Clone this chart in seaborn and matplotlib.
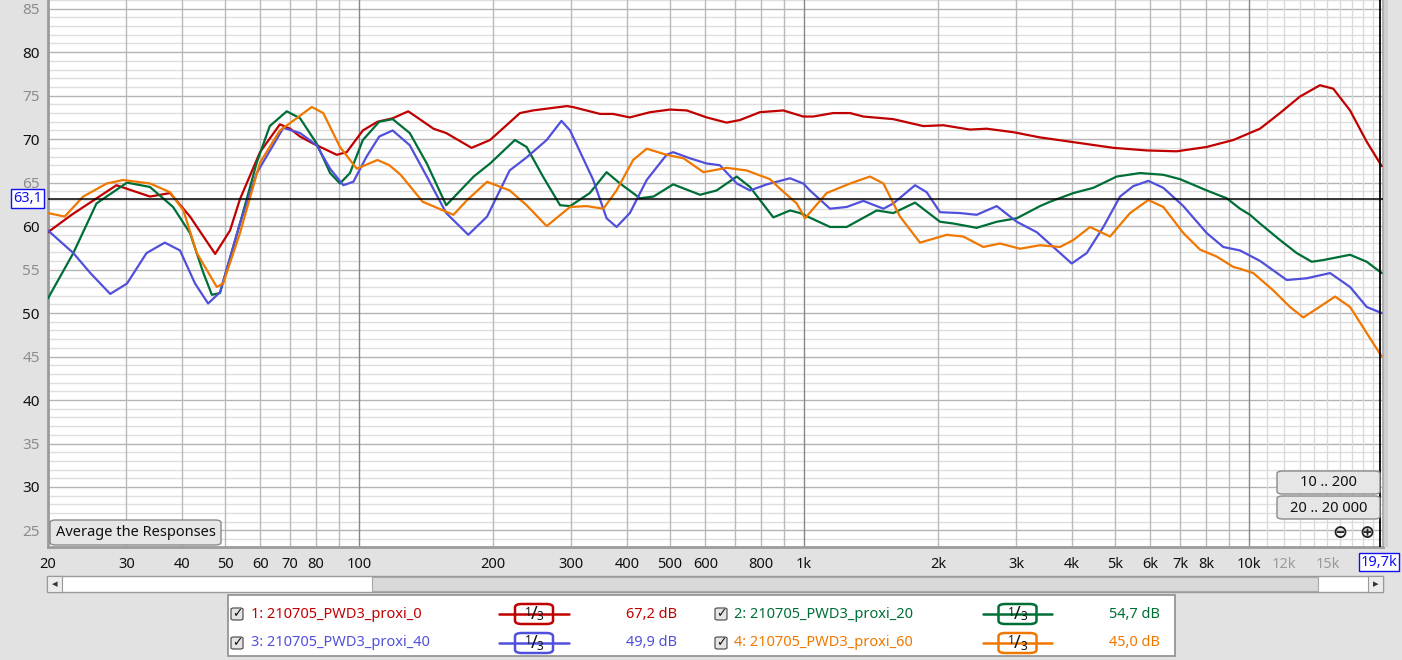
import numpy as np
import pandas as pd
import matplotlib
matplotlib.use("Agg")
import matplotlib.pyplot as plt
import seaborn as sns
from matplotlib.patches import FancyBboxPatch, Rectangle
from matplotlib.lines import Line2D
from matplotlib.ticker import NullLocator

# ---------------- data ----------------
red_freq = [20, 22.6, 28.5, 33.9, 37.6, 41.7, 47.5, 51.3, 54, 59.9,
            66.4, 70, 73.7, 78.8, 89.1, 93.8, 102, 110, 119, 129,
            147, 157, 179, 197, 230, 246, 293, 302, 348, 372,
            406, 451, 500, 545, 604, 670, 718, 796, 898, 996,
            1049, 1163, 1269, 1359, 1587, 1854, 2056, 2360, 2573, 2953,
            3390, 4100, 4955, 5890, 6877, 8033, 9218, 10583, 11737, 13017,
            14434, 15462, 16867, 18386, 19868]
red_db = [59.3, 61.3, 64.7, 63.4, 63.8, 61.1, 56.8, 59.5, 63.1, 68.5,
          71.7, 71.2, 70.3, 69.5, 68.2, 68.5, 71.0, 72.0, 72.4, 73.2,
          71.2, 70.7, 69.0, 69.9, 73.0, 73.3, 73.8, 73.7, 72.9, 72.9,
          72.5, 73.1, 73.4, 73.3, 72.5, 71.9, 72.2, 73.1, 73.3, 72.6,
          72.6, 73.0, 73.0, 72.6, 72.3, 71.5, 71.6, 71.1, 71.2, 70.8,
          70.2, 69.6, 69.0, 68.7, 68.6, 69.1, 69.9, 71.2, 73.0, 74.9,
          76.2, 75.8, 73.3, 69.7, 66.9]

green_freq = [20, 22.8, 25.7, 30.1, 33.9, 38.2, 41.7, 44.7, 46.7, 48.7,
              54, 58.9, 63, 68.8, 73.7, 80.3, 86.1, 90.6, 95.4, 102,
              111, 119, 130, 142, 157, 181, 197, 224, 238, 259,
              283, 298, 330, 360, 386, 428, 459, 508, 584, 636,
              706, 756, 853, 930, 979, 1144, 1247, 1457, 1587, 1776,
              2021, 2165, 2443, 2710, 3006, 3390, 3571, 4029, 4467, 5042,
              5689, 6418, 6996, 8033, 8908, 9544, 10050, 10583, 11737, 12797,
              13830, 14690, 16867, 18386, 19868]
green_db = [51.7, 56.9, 62.6, 65.0, 64.5, 62.2, 59.2, 54.6, 52.1, 52.3,
            60.3, 67.3, 71.5, 73.2, 72.4, 69.5, 66.1, 64.9, 66.1, 69.9,
            72.0, 72.3, 70.7, 67.2, 62.4, 65.7, 67.2, 69.9, 69.1, 65.7,
            62.4, 62.3, 63.8, 66.2, 64.9, 63.2, 63.4, 64.8, 63.6, 64.1,
            65.7, 64.5, 61.0, 61.8, 61.5, 59.9, 59.9, 61.8, 61.5, 62.7,
            60.5, 60.3, 59.8, 60.5, 60.9, 62.3, 62.8, 63.8, 64.4, 65.7,
            66.1, 65.9, 65.4, 64.1, 63.2, 62.0, 61.3, 60.3, 58.4, 56.9,
            55.9, 56.1, 56.7, 55.9, 54.6]

blue_freq = [20, 22.8, 24.9, 27.6, 30.1, 33.3, 36.6, 39.6, 42.8, 45.8,
             48.7, 54, 58.9, 67.6, 73.7, 80.3, 86.1, 92.2, 97.1, 104,
             111, 119, 130, 142, 157, 176, 194, 218, 238, 264,
             285, 298, 336, 360, 379, 406, 443, 491, 508, 554,
             604, 647, 706, 756, 825, 930, 996, 1031, 1144, 1247,
             1359, 1508, 1587, 1776, 1886, 2021, 2241, 2443, 2710, 3006,
             3334, 3632, 3995, 4317, 4706, 5130, 5495, 5939, 6418, 7118,
             8033, 8753, 9544, 10583, 12155, 13480, 15210, 16867, 18386, 19868]
blue_db = [59.5, 56.9, 54.6, 52.2, 53.4, 56.9, 58.1, 57.2, 53.4, 51.1,
           52.4, 60.3, 66.1, 71.3, 70.7, 69.3, 66.6, 64.7, 65.1, 68.0,
           70.3, 71.0, 69.3, 65.7, 61.5, 59.0, 61.1, 66.4, 67.9, 69.9,
           72.1, 71.0, 65.3, 60.9, 59.9, 61.5, 65.3, 68.2, 68.5, 67.8,
           67.2, 67.0, 64.9, 64.1, 64.8, 65.5, 64.9, 64.1, 62.0, 62.2,
           62.9, 62.0, 62.6, 64.7, 63.9, 61.6, 61.5, 61.3, 62.3, 60.5,
           59.3, 57.6, 55.7, 56.9, 59.9, 63.4, 64.6, 65.2, 64.4, 62.3,
           59.2, 57.6, 57.2, 56.0, 53.8, 54.0, 54.6, 53.0, 50.7, 50.0]

orange_freq = [20, 21.8, 24, 27.1, 29.5, 33.9, 37.6, 40.3, 43.2, 47.9,
               49.5, 54, 59.9, 66.4, 72.4, 78.3, 83.1, 90.6, 98.8, 110,
               117, 124, 139, 163, 175, 194, 218, 238, 264, 298,
               325, 354, 379, 413, 443, 491, 536, 594, 670, 743,
               838, 883, 963, 1005, 1124, 1269, 1407, 1508, 1643, 1822,
               2093, 2280, 2528, 2756, 3058, 3390, 3760, 4029, 4392, 4871,
               5402, 5939, 6418, 7118, 7760, 8460, 9218, 9544, 10222, 11340,
               12363, 13242, 14198, 15607, 16867, 18386, 19868]
orange_db = [61.5, 61.1, 63.4, 64.9, 65.3, 64.9, 63.9, 61.8, 56.9, 53.0,
             53.4, 59.2, 67.3, 71.0, 72.4, 73.7, 73.0, 69.1, 66.6, 67.6,
             67.0, 65.9, 62.8, 61.3, 63.0, 65.1, 64.1, 62.4, 60.0, 62.2,
             62.3, 62.0, 64.1, 67.6, 68.9, 68.2, 67.8, 66.2, 66.7, 66.4,
             65.4, 64.3, 62.6, 60.9, 63.8, 64.9, 65.7, 64.9, 61.1, 58.1,
             59.0, 58.8, 57.6, 58.0, 57.4, 57.8, 57.6, 58.4, 59.9, 58.8,
             61.5, 63.0, 62.2, 59.2, 57.3, 56.5, 55.3, 55.1, 54.6, 52.6,
             50.7, 49.5, 50.5, 51.9, 50.7, 47.7, 45.0]

series_names = ["1: 210705_PWD3_proxi_0", "2: 210705_PWD3_proxi_20",
                "3: 210705_PWD3_proxi_40", "4: 210705_PWD3_proxi_60"]
series_levels = ["67,2 dB", "54,7 dB", "49,9 dB", "45,0 dB"]
series_colors = ["#c00000", "#006e37", "#5050dc", "#f07800"]

x_tick_vals = [20, 30, 40, 50, 60, 70, 80, 100, 200, 300, 400, 500, 600, 800,
               1000, 2000, 3000, 4000, 5000, 6000, 7000, 8000, 10000, 12000, 15000]
x_tick_labels = ["20", "30", "40", "50", "60", "70", "80", "100", "200", "300",
                 "400", "500", "600", "800", "1k", "2k", "3k", "4k", "5k", "6k",
                 "7k", "8k", "10k", "12k", "15k"]
x_gray_labels = ["12k", "15k"]
y_tick_vals = [25, 30, 35, 40, 45, 50, 55, 60, 65, 70, 75, 80, 85]

cursor_db = 63.1
cursor_freq = 19700
cursor_db_label = "63,1"
cursor_freq_label = "19,7k"

# ---------------- figure ----------------
sns.set_theme(style="white")
plt.rcParams['font.family'] = ['Noto Sans', 'DejaVu Sans']

W, H = 1402, 660
BG = "#e2e2e2"
fig = plt.figure(figsize=(W / 100, H / 100), dpi=100, facecolor=BG)


def fx(x):
    return x / W


def fy(y):
    return 1 - y / H


PL, PR, PB = 48, 1383, 547
ax = fig.add_axes([fx(PL), fy(PB), fx(PR - PL), PB / H])
ax.set_facecolor("white")

df = pd.concat([
    pd.DataFrame({"freq": f, "db": d, "series": n})
    for f, d, n in zip([red_freq, green_freq, blue_freq, orange_freq],
                       [red_db, green_db, blue_db, orange_db], series_names)
])
sns.lineplot(data=df, x="freq", y="db", hue="series",
             palette=dict(zip(series_names, series_colors)),
             estimator=None, sort=False, linewidth=1.6, legend=False, ax=ax,
             zorder=5)
for ln in ax.lines:
    ln.set_solid_joinstyle("round")
    ln.set_solid_capstyle("round")
    ln.set_antialiased(True)

ax.set_xscale("log")
ax.set_xlim(20, 20000)
ax.set_ylim(23.1, 86.0)
ax.set_xlabel("")
ax.set_ylabel("")

# grid
for v in range(24, 87):
    if v % 5 == 0:
        ax.axhline(v, color="#b4b4b4", lw=1.0, zorder=1)
    else:
        ax.axhline(v, color="#dedede", lw=1.0, zorder=0.5)
for dec in [10, 100, 1000]:
    for m in range(2, 10):
        ax.axvline(m * dec, color="#bababa", lw=1.0, zorder=1)
for v in [100, 1000, 10000]:
    ax.axvline(v, color="#878787", lw=1.0, zorder=1.2)
for v in range(11000, 20000, 1000):
    ax.axvline(v, color="#dadada", lw=1.0, zorder=1)

# cursor lines
ax.axhline(cursor_db, color="black", lw=1.1, zorder=6)
ax.axvline(cursor_freq, color="black", lw=1.3, zorder=6)

# ticks
ax.xaxis.set_minor_locator(NullLocator())
ax.yaxis.set_minor_locator(NullLocator())
ax.set_xticks(x_tick_vals)
ax.set_xticklabels(x_tick_labels)
ax.set_yticks(y_tick_vals)
ax.set_yticklabels([str(v) for v in y_tick_vals])
ax.tick_params(axis="x", length=0, pad=7, labelsize=10.5, colors="black")
ax.tick_params(axis="y", length=0, pad=6, labelsize=11)
for t in ax.get_xticklabels():
    t.set_color("#9a9a9a" if t.get_text() in x_gray_labels else "#111111")
for t, v in zip(ax.get_yticklabels(), y_tick_vals):
    t.set_color("#111111" if v % 10 == 0 else "#8c8c8c")

ax.spines["top"].set_visible(False)
ax.spines["left"].set_color("#9c9c9c")
ax.spines["left"].set_linewidth(2.0)
ax.spines["bottom"].set_color("#9c9c9c")
ax.spines["bottom"].set_linewidth(2.0)
ax.spines["right"].set_color("#b0b0b0")
ax.spines["right"].set_linewidth(1.5)

# right strip shadow
fig.add_artist(Rectangle((fx(1384), fy(PB)), fx(4), PB / H, transform=fig.transFigure,
                         facecolor="#cfcfcf", edgecolor="none"))


# ---------------- helpers for UI decorations ----------------
def button(x0, y0, x1, y1, label, fs=10.5):
    p = FancyBboxPatch((fx(x0), fy(y1)), fx(x1 - x0), (y1 - y0) / H,
                       boxstyle="round,pad=0,rounding_size=0.004",
                       transform=fig.transFigure, facecolor="#e6e6e6",
                       edgecolor="#8a8a8a", lw=1.0, zorder=10)
    fig.add_artist(p)
    fig.text(fx((x0 + x1) / 2), fy((y0 + y1) / 2 + 0.5), label, ha="center", va="center",
             fontsize=fs, color="#111111", zorder=11)


button(50, 520, 221, 545, "Average the Responses")
button(1277, 471, 1380, 494, "10 .. 200")
button(1277, 496, 1380, 519, "20 .. 20 000")
fig.text(fx(1340), fy(533), "⊖", ha="center", va="center", fontsize=13,
         family="DejaVu Sans", fontweight="bold", color="#222222", zorder=11)
fig.text(fx(1367), fy(533), "⊕", ha="center", va="center", fontsize=13,
         family="DejaVu Sans", fontweight="bold", color="#222222", zorder=11)

# cursor value boxes
fig.text(fx(27.5), fy(198.5), cursor_db_label, ha="center", va="center", fontsize=10.5,
         color="#1010f0",
         bbox=dict(boxstyle="square,pad=0.15", facecolor="white", edgecolor="#1010f0", lw=1.0))
fig.text(fx(1379), fy(562), cursor_freq_label, ha="center", va="center", fontsize=10.5,
         color="#1010f0",
         bbox=dict(boxstyle="square,pad=0.12", facecolor="white", edgecolor="#1010f0", lw=1.0))

# scrollbar
fig.add_artist(Rectangle((fx(47), fy(592)), fx(1383 - 47), 16 / H, transform=fig.transFigure,
                         facecolor="white", edgecolor="#9a9a9a", lw=1.0))
fig.add_artist(Rectangle((fx(372), fy(591)), fx(1318 - 372), 14 / H, transform=fig.transFigure,
                         facecolor="#d9d9d9", edgecolor="#a8a8a8", lw=0.8))
for xa, glyph in [(47, "◂"), (1368, "▸")]:
    fig.add_artist(Rectangle((fx(xa), fy(592)), fx(15), 16 / H, transform=fig.transFigure,
                             facecolor="#ececec", edgecolor="#9a9a9a", lw=0.8))
    fig.text(fx(xa + 7.5), fy(584.5), glyph, ha="center", va="center", fontsize=8,
             family="DejaVu Sans", color="#333333")

# legend panel
fig.add_artist(Rectangle((fx(228), fy(656)), fx(1175 - 228), (656 - 595) / H,
                         transform=fig.transFigure, facecolor="white",
                         edgecolor="#8e8e8e", lw=1.2))

col_x = [(231, 251, 499, 569, 677), (715, 734, 983, 1052, 1160)]
row_y = [614, 643]
for i, (name, lvl, col) in enumerate(zip(series_names, series_levels, series_colors)):
    cx = col_x[i % 2]
    ry = row_y[i // 2]
    cb0, tx, l0, l1, vx = cx
    # checkbox
    fig.add_artist(FancyBboxPatch((fx(cb0), fy(ry + 6)), fx(12), 12 / H,
                                  boxstyle="round,pad=0,rounding_size=0.002",
                                  transform=fig.transFigure, facecolor="#e4e4e4",
                                  edgecolor="#555555", lw=0.9))
    fig.text(fx(cb0 + 6), fy(ry), "✓", ha="center", va="center", fontsize=9,
             family="DejaVu Sans", color="#111111")
    fig.text(fx(tx), fy(ry), name, ha="left", va="center", fontsize=10.5, color=col)
    # line symbol
    fig.add_artist(Line2D([fx(l0), fx(l1)], [fy(ry), fy(ry)], transform=fig.transFigure,
                          color=col, lw=1.8))
    bm = (l0 + l1) / 2
    fig.add_artist(FancyBboxPatch((fx(bm - 19), fy(ry + 10)), fx(38), 20 / H,
                                  boxstyle="round,pad=0,rounding_size=0.005",
                                  transform=fig.transFigure, facecolor="white",
                                  edgecolor=col, lw=1.8))
    fig.text(fx(bm - 6), fy(ry - 2), "1", ha="center", va="center", fontsize=8.5, color="#111111")
    fig.text(fx(bm), fy(ry), "/", ha="center", va="center", fontsize=13, color="#111111")
    fig.text(fx(bm + 6), fy(ry + 3), "3", ha="center", va="center", fontsize=8.5, color="#111111")
    fig.text(fx(vx), fy(ry), lvl, ha="right", va="center", fontsize=10.5, color=col)

fig.savefig("out.png", dpi=100, facecolor=fig.get_facecolor())
